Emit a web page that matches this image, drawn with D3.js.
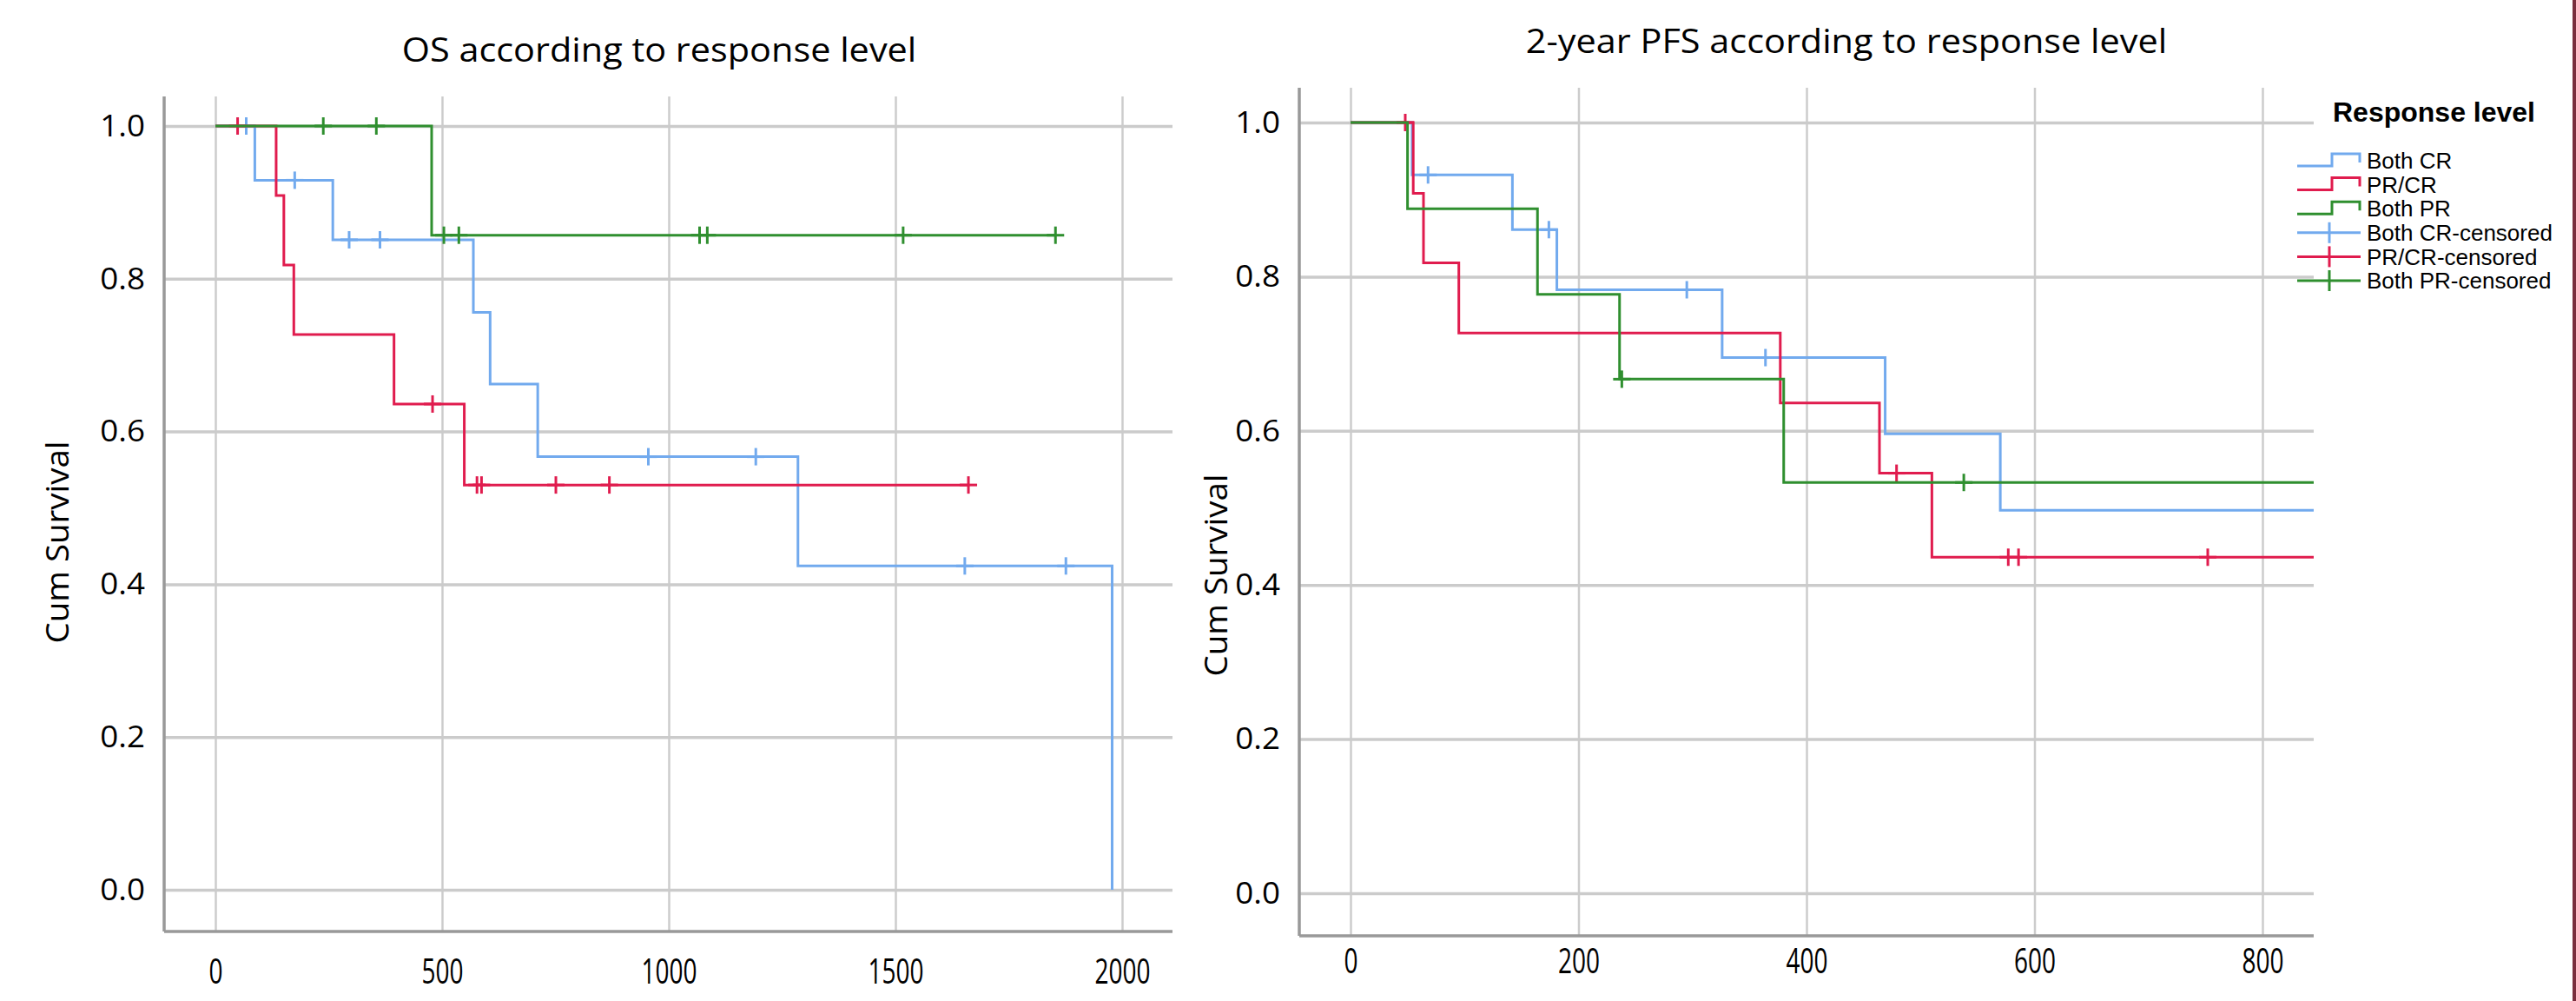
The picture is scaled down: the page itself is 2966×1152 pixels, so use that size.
<!DOCTYPE html>
<html>
<head>
<meta charset="utf-8">
<script src="https://cdn.jsdelivr.net/npm/d3@7"></script>
<style>
  body { margin: 0; background: #fff; }
  svg { display: block; }
</style>
</head>
<body>
<div id="chart"></div>
<script>
// Kaplan-Meier curves
const groups = ["Both CR", "PR/CR", "Both PR"];
const groupColors = ["#72aaee", "#e01c4e", "#2f8f2f"];

// OS panel: step times (days) and survival after each step
const osTimesBothCR = [0, 87, 259, 569, 606, 711, 1285, 1978];
const osSurvBothCR = [1.0, 0.929, 0.851, 0.756, 0.662, 0.567, 0.424, 0.0];
const osCensBothCR = [68, 175, 295, 363, 955, 1192, 1653, 1876];

const osTimesPRCR = [0, 134, 151, 173, 394, 549, 1661];
const osSurvPRCR = [1.0, 0.909, 0.818, 0.727, 0.636, 0.530, 0.530];
const osCensPRCR = [49, 479, 577, 587, 751, 869, 1661];

const osTimesBothPR = [0, 477, 1853];
const osSurvBothPR = [1.0, 0.857, 0.857];
const osCensBothPR = [238, 355, 504, 537, 1068, 1085, 1517, 1853];

// 2-year PFS panel
const pfsTimesBothCR = [0, 54, 142, 181, 326, 469, 570, 900];
const pfsSurvBothCR = [1.0, 0.932, 0.861, 0.783, 0.695, 0.596, 0.497, 0.497];
const pfsCensBothCR = [68, 174, 295, 364];

const pfsTimesPRCR = [0, 55, 64, 95, 377, 464, 510, 900];
const pfsSurvPRCR = [1.0, 0.908, 0.818, 0.727, 0.636, 0.545, 0.436, 0.436];
const pfsCensPRCR = [48, 479, 577, 586, 752];

const pfsTimesBothPR = [0, 50, 164, 236, 380, 900];
const pfsSurvBothPR = [1.0, 0.888, 0.777, 0.667, 0.533, 0.533];
const pfsCensBothPR = [238, 538];

const osXTicks = [0, 500, 1000, 1500, 2000];
const pfsXTicks = [0, 200, 400, 600, 800];
const yTicks = [0.0, 0.2, 0.4, 0.6, 0.8, 1.0];

const legendLabels = ["Both CR", "PR/CR", "Both PR", "Both CR-censored", "PR/CR-censored", "Both PR-censored"];

const W = 2966, H = 1152;
const svg = d3.select("#chart").append("svg")
    .attr("width", W)
    .attr("height", H);

const panels = [
    {
        id: "os",
        title: "OS according to response level",
        titleX: 759, titleY: 58,
        box: { left: 189, right: 1350, top: 111, bottom: 1072 },
        x: d3.scaleLinear().domain([0, 2000]).range([248, 1292]),
        y: d3.scaleLinear().domain([0, 1]).range([1024, 145]),
        xTicks: osXTicks,
        xLabelY: 1118,
        yLabelX: 66, yLabelY: 624,
        series: [
            { times: osTimesBothCR, surv: osSurvBothCR, cens: osCensBothCR },
            { times: osTimesPRCR, surv: osSurvPRCR, cens: osCensPRCR },
            { times: osTimesBothPR, surv: osSurvBothPR, cens: osCensBothPR }
        ]
    },
    {
        id: "pfs",
        title: "2-year PFS according to response level",
        titleX: 2126, titleY: 48,
        box: { left: 1496, right: 2664, top: 101, bottom: 1077 },
        x: d3.scaleLinear().domain([0, 800]).range([1555, 2605]),
        y: d3.scaleLinear().domain([0, 1]).range([1028, 141]),
        xTicks: pfsXTicks,
        xLabelY: 1106,
        yLabelX: 1400, yLabelY: 662,
        series: [
            { times: pfsTimesBothCR, surv: pfsSurvBothCR, cens: pfsCensBothCR },
            { times: pfsTimesPRCR, surv: pfsSurvPRCR, cens: pfsCensPRCR },
            { times: pfsTimesBothPR, surv: pfsSurvBothPR, cens: pfsCensBothPR }
        ]
    }
];

const font = "'Open Sans', 'DejaVu Sans', sans-serif";

// squeeze or stretch a label horizontally, keeping its anchor
function squeeze(sel, factor) {
    sel.each(function () {
        const w = this.getComputedTextLength();
        d3.select(this)
            .attr("textLength", w * factor)
            .attr("lengthAdjust", "spacingAndGlyphs");
    });
}

panels.forEach(p => {
    const g = svg.append("g").attr("class", p.id);
    const b = p.box;

    // vertical grid
    g.append("g")
        .attr("transform", `translate(0, ${b.bottom})`)
        .call(d3.axisBottom(p.x).tickValues(p.xTicks).tickSize(-(b.bottom - b.top)).tickFormat(""))
        .call(a => a.select(".domain").remove())
        .call(a => a.selectAll("line").attr("stroke", "#cccccc").attr("stroke-width", 2.5));

    // horizontal grid
    g.append("g")
        .attr("transform", `translate(${b.left}, 0)`)
        .call(d3.axisLeft(p.y).tickValues(yTicks).tickSize(-(b.right - b.left)).tickFormat(""))
        .call(a => a.select(".domain").remove())
        .call(a => a.selectAll("line").attr("stroke", "#cbcbcb").attr("stroke-width", 3.5));

    // axis lines
    g.append("line")
        .attr("x1", b.left).attr("x2", b.left)
        .attr("y1", b.top).attr("y2", b.bottom)
        .attr("stroke", "#999").attr("stroke-width", 3.5);
    g.append("line")
        .attr("x1", b.left).attr("x2", b.right)
        .attr("y1", b.bottom).attr("y2", b.bottom)
        .attr("stroke", "#999").attr("stroke-width", 3.5);

    // tick labels
    g.append("g")
        .attr("transform", `translate(0, ${p.xLabelY})`)
        .call(d3.axisBottom(p.x).tickValues(p.xTicks).tickSize(0).tickPadding(0).tickFormat(d3.format("d")))
        .call(a => a.select(".domain").remove())
        .call(a => a.selectAll("text")
            .attr("font-family", font).attr("font-size", 40).attr("fill", "#000")
            .attr("dy", "0.35em")
            .call(squeeze, 0.7));

    g.append("g")
        .attr("transform", `translate(${b.left - 22}, 0)`)
        .call(d3.axisLeft(p.y).tickValues(yTicks).tickSize(0).tickPadding(0).tickFormat(d3.format(".1f")))
        .call(a => a.select(".domain").remove())
        .call(a => a.selectAll("text")
            .attr("font-family", font).attr("font-size", 35).attr("fill", "#000")
            .call(squeeze, 1.05));

    // titles
    g.append("text")
        .attr("x", p.titleX).attr("y", p.titleY)
        .attr("text-anchor", "middle").attr("dy", "0.35em")
        .attr("font-family", font).attr("font-size", 38)
        .text(p.title)
        .call(squeeze, 1.09);

    g.append("text")
        .attr("transform", `translate(${p.yLabelX}, ${p.yLabelY}) rotate(-90)`)
        .attr("text-anchor", "middle").attr("dy", "0.35em")
        .attr("font-family", font).attr("font-size", 37)
        .text("Cum Survival")
        .call(squeeze, 1.04);

    // curves
    const clipId = `clip-${p.id}`;
    svg.append("defs").append("clipPath").attr("id", clipId)
        .append("rect")
        .attr("x", b.left).attr("y", b.top - 20)
        .attr("width", b.right - b.left).attr("height", b.bottom - b.top + 20);

    const plot = g.append("g").attr("clip-path", `url(#${clipId})`);
    const line = d3.line()
        .x(d => p.x(d[0]))
        .y(d => p.y(d[1]))
        .curve(d3.curveStepAfter);

    p.series.forEach((s, i) => {
        const pts = s.times.map((t, k) => [t, s.surv[k]]);
        plot.append("path")
            .attr("d", line(pts))
            .attr("fill", "none")
            .attr("stroke", groupColors[i])
            .attr("stroke-width", 3);

        const survAt = t => s.surv[Math.max(0, d3.bisectRight(s.times, t) - 1)];
        const marks = plot.append("g").attr("stroke", groupColors[i]).attr("stroke-width", 3);
        s.cens.forEach(t => {
            const cx = p.x(t), cy = p.y(survAt(t));
            marks.append("line")
                .attr("x1", cx).attr("x2", cx)
                .attr("y1", cy - 10).attr("y2", cy + 10);
            marks.append("line")
                .attr("x1", cx - 10).attr("x2", cx + 10)
                .attr("y1", cy).attr("y2", cy);
        });
    });
});

// legend
const legendFont = "'Liberation Sans', Arial, sans-serif";
const legend = svg.append("g").attr("transform", "translate(2645, 0)");
legend.append("text")
    .attr("x", 41).attr("y", 129)
    .attr("dy", "0.35em")
    .attr("font-family", legendFont)
    .attr("font-weight", "bold").attr("font-size", 32)
    .text("Response level");

const legendY = d3.scalePoint().domain(legendLabels).range([185, 323]);

legendLabels.forEach((label, i) => {
    const color = groupColors[i % 3];
    const cy = legendY(label);
    const item = legend.append("g");
    if (i < 3) {
        item.append("path")
            .attr("d", `M0,${cy + 6} H40 V${cy - 8} H72 V${cy + 2}`)
            .attr("fill", "none").attr("stroke", color).attr("stroke-width", 3);
    } else {
        item.append("line")
            .attr("x1", 0).attr("x2", 73).attr("y1", cy).attr("y2", cy)
            .attr("stroke", color).attr("stroke-width", 3);
        item.append("line")
            .attr("x1", 37).attr("x2", 37).attr("y1", cy - 12).attr("y2", cy + 12)
            .attr("stroke", color).attr("stroke-width", 3);
    }
    item.append("text")
        .attr("x", 80).attr("y", cy)
        .attr("dy", "0.35em")
        .attr("font-family", legendFont)
        .attr("font-size", 26)
        .text(label);
});

// thin frame line at the right edge
svg.append("rect")
    .attr("x", W - 4).attr("y", 0)
    .attr("width", 4).attr("height", H)
    .attr("fill", "#7a2e3e");
</script>
</body>
</html>
